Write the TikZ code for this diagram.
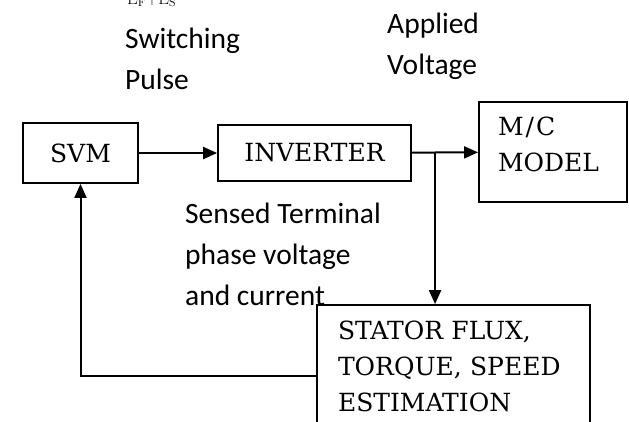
\documentclass[tikz,border=0pt]{standalone}
\usepackage{fontspec}
\usepackage{tikz}
\usetikzlibrary{arrows.meta, positioning, calc}
\newfontfamily\lblfont{Carlito}
\newfontfamily\boxfont{DejaVu Serif}

\begin{document}
\begin{tikzpicture}[x=1pt, y=-1pt,
  blk/.style={draw, line width=1.8pt, font=\boxfont\fontsize{25}{36}\selectfont, inner sep=0pt},
  lbl/.style={font=\lblfont\fontsize{29.5}{41}\selectfont, align=left, inner sep=0pt, anchor=base west},
  flow/.style={line width=2pt, -{Triangle[length=14pt, width=12pt]}}]
\useasboundingbox (0,0) rectangle (629,421);
% drive blocks
\node[blk, minimum width=115pt, minimum height=60pt] (svm) at (80.5,153) {SVM};
\node[blk, minimum width=193pt, minimum height=56pt] (inv) at (314.5,153) {INVERTER};
\node[blk, minimum width=148pt, minimum height=100pt, text width=110pt, align=left, text depth=52pt]
      (mc) at (553,152) {M\kern2pt/\kern2pt C\\MODEL};
\node[blk, minimum width=273pt, minimum height=122pt, text width=231pt, align=left]
      (stat) at (453.5,366) {STATOR FLUX,\\TORQUE, SPEED\\ESTIMATION};

% labels (base = last line)
\node[anchor=base west, inner sep=0pt, font=\fontsize{17}{17}\selectfont] (sum) at (127,4) {$\mathrm{E_F{+}E_S}$};
\node[lbl] (pulse) at (125,89) {Switching\\Pulse};
\node[lbl] (volt) at (387,74) {Applied\\Voltage};
\node[lbl] (sense) at (185,305) {Sensed Terminal\\phase voltage\\and current};

% connectors
\draw[flow] (svm) -- (inv);
\draw[flow] (inv) -- (mc);
\coordinate (tap) at ($(inv.east)!0.35!(mc.west)$);
\draw[flow] (tap) -- (tap |- stat.north);
\draw[flow] ([yshift=-10pt]stat.west) -| (svm.south);
\end{tikzpicture}
\end{document}
